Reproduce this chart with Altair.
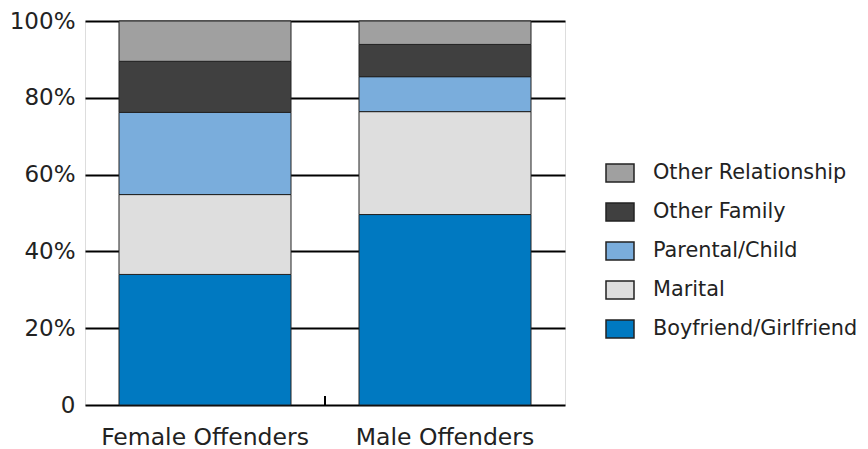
import altair as alt
import pandas as pd

groups = ["Female Offenders", "Male Offenders"]
categories = ["Boyfriend/Girlfriend", "Marital", "Parental/Child", "Other Family", "Other Relationship"]
female = [34.0, 20.8, 21.4, 13.3, 10.5]
male = [49.6, 26.8, 9.1, 8.4, 6.1]
colors = ["#0079C1", "#DEDEDE", "#7AADDC", "#404040", "#A0A0A0"]
y_ticks = [0, 0.2, 0.4, 0.6, 0.8, 1.0]

rows = []
for g, vals in zip(groups, [female, male]):
    for i, (c, v) in enumerate(zip(categories, vals)):
        rows.append({"group": g, "category": c, "value": v / 100.0, "rank": i})
df = pd.DataFrame(rows)

legend_order = list(reversed(categories))
legend_colors = list(reversed(colors))

FONT = "DejaVu Sans"

bars = alt.Chart(df).mark_bar(size=172, stroke="#222222", strokeWidth=1).encode(
    x=alt.X("group:N", sort=groups, title=None,
            scale=alt.Scale(paddingInner=0, paddingOuter=0),
            axis=alt.Axis(labelAngle=0, ticks=False, domain=False, grid=False,
                          labelFontSize=23.5, labelFont=FONT, labelColor="#222222",
                          labelPadding=20, labelLimit=0)),
    y=alt.Y("value:Q", stack="zero", title=None,
            scale=alt.Scale(domain=[0, 1]),
            axis=alt.Axis(values=y_ticks, labelExpr="datum.value == 0 ? '0' : format(datum.value, '.0%')",
                          ticks=False, domain=False, grid=True, gridColor="#000000",
                          gridWidth=2, gridOpacity=1, labelFontSize=23, labelFont=FONT,
                          labelColor="#222222", labelPadding=10, labelLimit=0)),
    color=alt.Color("category:N",
                    scale=alt.Scale(domain=legend_order, range=legend_colors),
                    legend=alt.Legend(title=None, orient="none", legendX=520, legendY=137,
                                      symbolType="M-1,-0.643H1V0.643H-1Z", symbolSize=784,
                                      symbolStrokeColor="#222222", symbolStrokeWidth=1.5,
                                      labelFontSize=20.8, labelFont=FONT, labelColor="#222222",
                                      labelOffset=18, rowPadding=11, padding=0, labelLimit=0)),
    order=alt.Order("rank:Q", sort="ascending"),
)

tick = alt.Chart(df).mark_rule(color="#000000", strokeWidth=2).encode(
    x=alt.value(240), y=alt.value(375), y2=alt.value(384)
)

chart = alt.layer(bars, tick).properties(
    width=480, height=384,
    autosize=alt.AutoSizeParams(type="none"),
    padding={"left": 77, "top": 13, "right": 295, "bottom": 48},
).configure_view(stroke="#000000", strokeWidth=2).configure(background="#ffffff")

chart.save("out.html", embed_options={"renderer": "svg", "actions": False})
